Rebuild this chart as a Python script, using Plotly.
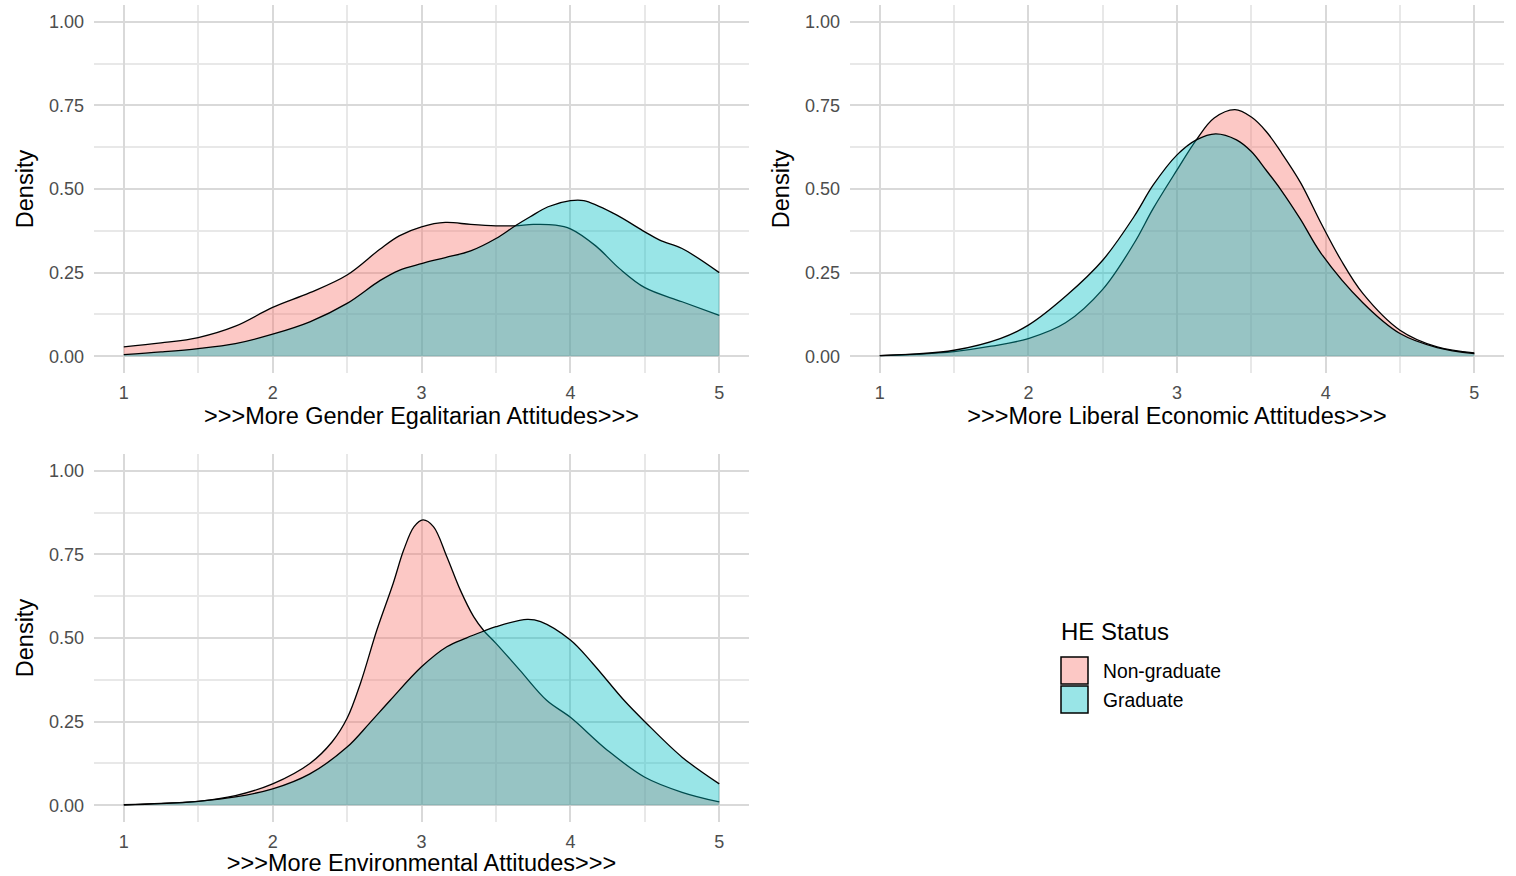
import plotly.graph_objects as go

# Density estimates by higher-education status for three attitude scales
groups = ["Non-graduate", "Graduate"]
fill_colors = {"Non-graduate": "rgba(248,118,109,0.4)", "Graduate": "rgba(0,191,196,0.4)"}

# Gender egalitarian attitudes
gender_ng_x = [1.0, 1.25, 1.5, 1.75, 2.0, 2.25, 2.5, 2.72, 2.85, 3.0, 3.16, 3.33, 3.5, 3.63, 3.75, 3.9, 4.0, 4.17, 4.33, 4.5, 4.75, 5.0]
gender_ng_y = [0.028, 0.040, 0.056, 0.090, 0.146, 0.190, 0.243, 0.320, 0.360, 0.387, 0.400, 0.394, 0.390, 0.390, 0.394, 0.392, 0.381, 0.330, 0.262, 0.205, 0.163, 0.122]
gender_g_x = [1.0, 1.25, 1.5, 1.75, 2.0, 2.25, 2.5, 2.72, 2.85, 3.0, 3.16, 3.33, 3.5, 3.63, 3.73, 3.85, 4.0, 4.09, 4.29, 4.5, 4.6, 4.75, 5.0]
gender_g_y = [0.005, 0.013, 0.023, 0.038, 0.066, 0.103, 0.158, 0.226, 0.257, 0.277, 0.295, 0.315, 0.352, 0.390, 0.417, 0.447, 0.465, 0.465, 0.427, 0.372, 0.347, 0.322, 0.250]

# Liberal economic attitudes
econ_ng_x = [1.0, 1.25, 1.5, 1.75, 2.0, 2.25, 2.5, 2.71, 2.84, 3.0, 3.13, 3.25, 3.39, 3.5, 3.6, 3.7, 3.83, 3.97, 4.1, 4.25, 4.5, 4.75, 5.0]
econ_ng_y = [0.002, 0.006, 0.014, 0.030, 0.053, 0.100, 0.200, 0.337, 0.442, 0.557, 0.647, 0.712, 0.737, 0.715, 0.672, 0.610, 0.520, 0.397, 0.290, 0.188, 0.078, 0.028, 0.010]
econ_g_x = [1.0, 1.25, 1.5, 1.81, 2.0, 2.26, 2.5, 2.71, 2.84, 3.0, 3.13, 3.26, 3.4, 3.5, 3.6, 3.7, 3.83, 3.97, 4.25, 4.5, 4.75, 5.0]
econ_g_y = [0.002, 0.007, 0.018, 0.053, 0.093, 0.183, 0.287, 0.417, 0.512, 0.602, 0.647, 0.665, 0.647, 0.612, 0.556, 0.497, 0.410, 0.307, 0.160, 0.068, 0.026, 0.008]

# Environmental attitudes
env_ng_x = [1.0, 1.25, 1.5, 1.75, 2.0, 2.25, 2.4, 2.5, 2.59, 2.7, 2.81, 2.88, 2.95, 3.01, 3.08, 3.17, 3.26, 3.35, 3.42, 3.5, 3.66, 3.84, 4.0, 4.25, 4.5, 4.75, 5.0]
env_ng_y = [0.002, 0.006, 0.012, 0.029, 0.064, 0.125, 0.190, 0.260, 0.365, 0.524, 0.664, 0.763, 0.833, 0.853, 0.833, 0.743, 0.644, 0.564, 0.521, 0.484, 0.404, 0.314, 0.263, 0.164, 0.084, 0.039, 0.010]
env_g_x = [1.0, 1.25, 1.5, 1.75, 2.0, 2.25, 2.5, 2.65, 2.79, 3.0, 3.17, 3.3, 3.42, 3.5, 3.71, 3.8, 4.0, 4.15, 4.36, 4.5, 4.75, 5.0]
env_g_y = [0.001, 0.005, 0.012, 0.025, 0.049, 0.094, 0.174, 0.245, 0.314, 0.414, 0.474, 0.500, 0.521, 0.534, 0.556, 0.549, 0.494, 0.424, 0.314, 0.250, 0.144, 0.064]

x_ticks = [1, 2, 3, 4, 5]
y_ticks = [0.0, 0.25, 0.5, 0.75, 1.0]
y_tick_text = ["0.00", "0.25", "0.50", "0.75", "1.00"]

panels = [
    (">>>More Gender Egalitarian Attitudes>>>", (gender_ng_x, gender_ng_y), (gender_g_x, gender_g_y), "x", "y"),
    (">>>More Liberal Economic Attitudes>>>", (econ_ng_x, econ_ng_y), (econ_g_x, econ_g_y), "x2", "y2"),
    (">>>More Environmental Attitudes>>>", (env_ng_x, env_ng_y), (env_g_x, env_g_y), "x3", "y3"),
]

FONT = "Liberation Sans, Arial, sans-serif"

fig = go.Figure()
for title, ng, g, xa, ya in panels:
    for name, (xs, ys) in zip(groups, [ng, g]):
        fig.add_trace(go.Scatter(
            x=xs, y=ys, name=name, xaxis=xa, yaxis=ya,
            mode="lines", fill="tozeroy", fillcolor=fill_colors[name],
            line=dict(color="black", width=1.3, shape="spline", smoothing=1.0),
            showlegend=False, hoverinfo="skip",
        ))

domains = {
    "x": [0.062, 0.4941], "y": [0.5742, 0.9943],
    "x2": [0.5607, 0.9921], "y2": [0.5742, 0.9943],
    "x3": [0.062, 0.4941], "y3": [0.0616, 0.4817],
}

def xaxis_cfg(dom, anchor, title):
    return dict(
        domain=dom, anchor=anchor, range=[0.8, 5.2], tickvals=x_ticks,
        showgrid=True, gridcolor="#d9d9d9", gridwidth=2,
        minor=dict(dtick=0.5, tick0=0.5, showgrid=True, gridcolor="#e8e8e8", gridwidth=1.5),
        zeroline=False, showline=False, ticks="",
        tickfont=dict(family=FONT, size=18, color="#4d4d4d"), ticklabelstandoff=7,
        title=dict(text=title, font=dict(family=FONT, size=23.5, color="black"), standoff=4),
    )

def yaxis_cfg(dom, anchor):
    return dict(
        domain=dom, anchor=anchor, range=[-0.05, 1.05], tickvals=y_ticks, ticktext=y_tick_text,
        showgrid=True, gridcolor="#d9d9d9", gridwidth=2,
        minor=dict(dtick=0.25, tick0=0.125, showgrid=True, gridcolor="#e8e8e8", gridwidth=1.5),
        zeroline=False, showline=False, ticks="",
        tickfont=dict(family=FONT, size=18, color="#4d4d4d"), ticklabelstandoff=9,
        title=dict(text="Density", font=dict(family=FONT, size=23.5, color="black"), standoff=8),
    )

fig.update_layout(
    width=1516, height=876, margin=dict(l=0, r=0, t=0, b=0),
    paper_bgcolor="white", plot_bgcolor="white", showlegend=False,
    xaxis=xaxis_cfg(domains["x"], "y", panels[0][0]),
    yaxis=yaxis_cfg(domains["y"], "x"),
    xaxis2=xaxis_cfg(domains["x2"], "y2", panels[1][0]),
    yaxis2=yaxis_cfg(domains["y2"], "x2"),
    xaxis3=xaxis_cfg(domains["x3"], "y3", panels[2][0]),
    yaxis3=yaxis_cfg(domains["y3"], "x3"),
)

# Legend drawn in the empty bottom-right cell
W, H = 1516, 876
def px(x):
    return x / W
def py(y):
    return 1 - y / H

fig.add_annotation(x=px(1059), y=py(631), xref="paper", yref="paper", text="HE Status",
                   showarrow=False, xanchor="left", yanchor="middle",
                   font=dict(family=FONT, size=24, color="black"))
key_rows = [("Non-graduate", 657, 671), ("Graduate", 686, 700)]
for name, top, mid in key_rows:
    fig.add_shape(type="rect", xref="paper", yref="paper",
                  x0=px(1061), x1=px(1088), y0=py(top + 27), y1=py(top),
                  fillcolor=fill_colors[name], line=dict(color="black", width=1.5))
    fig.add_annotation(x=px(1101), y=py(mid), xref="paper", yref="paper", text=name,
                       showarrow=False, xanchor="left", yanchor="middle",
                       font=dict(family=FONT, size=19.3, color="black"))

fig.write_html("out.html")
